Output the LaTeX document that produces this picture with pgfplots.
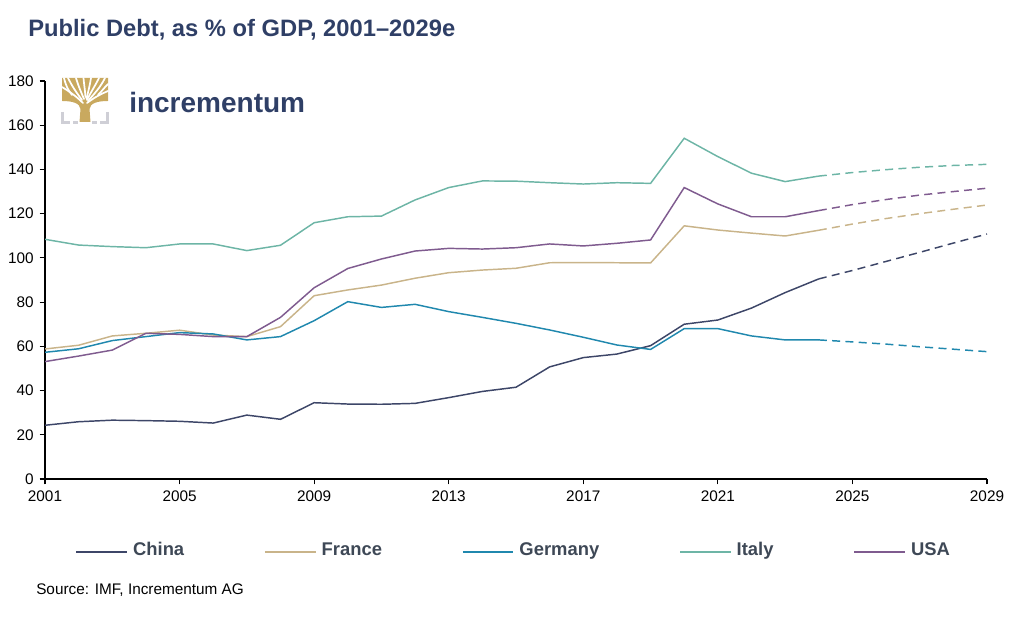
\documentclass[border=0pt]{standalone}
\usepackage{pgfplots}
\pgfplotsset{compat=1.18}
\usepackage{fontspec}
\setmainfont{Liberation Sans}
\definecolor{cChina}{HTML}{3D4668}
\definecolor{cFrance}{HTML}{C9B48A}
\definecolor{cGermany}{HTML}{2088AE}
\definecolor{cItaly}{HTML}{6DB5A6}
\definecolor{cUSA}{HTML}{7F5B8F}
\definecolor{titlec}{HTML}{2F3F66}
\definecolor{legc}{HTML}{3E4856}
\definecolor{treec}{HTML}{C9A95F}
\definecolor{brackc}{HTML}{CFCFD6}

\pgfplotstableread{
year China France Germany Italy USA
2001 24.3 58.8 57.3 108.4 53.1
2002 25.9 60.5 58.9 105.8 55.6
2003 26.6 64.7 62.6 105.1 58.3
2004 26.4 65.9 64.4 104.6 65.9
2005 26.1 67.3 66.2 106.3 65.4
2006 25.3 65.1 65.6 106.3 64.4
2007 28.9 64.4 62.9 103.3 64.4
2008 27.0 68.9 64.4 105.7 73.1
2009 34.5 82.9 71.6 115.9 86.5
2010 33.9 85.5 80.2 118.6 95.2
2011 33.8 87.7 77.6 118.9 99.5
2012 34.2 90.8 79.0 126.2 103.1
2013 36.8 93.3 75.7 131.8 104.3
2014 39.6 94.5 73.1 134.8 104.0
2015 41.5 95.3 70.4 134.7 104.6
2016 50.7 97.8 67.4 134.0 106.3
2017 54.9 97.9 64.1 133.4 105.4
2018 56.5 97.8 60.6 134.0 106.6
2019 60.3 97.7 58.6 133.7 108.1
2020 70.0 114.5 68.0 154.1 131.8
2021 71.9 112.6 68.0 145.8 124.4
2022 77.3 111.2 64.7 138.3 118.6
2023 84.3 109.9 62.9 134.5 118.6
2024 90.5 112.5 62.9 137.0 121.4
}\actual

\pgfplotstableread{
year China France Germany Italy USA
2024 90.5 112.5 62.9 137.0 121.4
2025 94.3 115.3 62.0 138.6 124.1
2026 98.4 117.8 61.0 139.9 126.4
2027 102.5 120.0 59.8 141.0 128.4
2028 106.7 122.0 58.7 141.8 130.0
2029 110.8 123.9 57.6 142.3 131.5
}\forecast

\begin{document}
\begin{tikzpicture}
\path[use as bounding box] (0,0) rectangle (762pt,476.25pt);
\begin{axis}[
  at={(33.75pt,117pt)}, anchor=south west,
  scale only axis, width=706.5pt, height=298.5pt,
  xmin=2001, xmax=2029, ymin=0, ymax=180,
  xtick={2001,2005,...,2029}, ytick={0,20,...,180},
  axis x line*=bottom, axis y line*=left,
  axis line style={black, line width=0.9pt, -},
  tick style={black, line width=0.9pt},
  tick align=outside, major tick length=4pt,
  /pgf/number format/.cd, 1000 sep={}, assume math mode=true,
  /pgfplots/.cd,
  tick label style={font=\fontsize{11.5}{13}\selectfont, black},
  xticklabel style={yshift=-1pt},
  yticklabel style={xshift=-1pt},
  legend columns=5,
  legend style={draw=none, fill=none, at={(0.028,-0.183)}, anchor=west,
    font=\fontsize{13.8}{15}\bfseries\selectfont, text=legc,
    nodes={text height=1.45ex, text depth=0.3ex},
    /tikz/every even column/.append style={column sep=58pt},
    /tikz/every odd column/.append style={column sep=2pt}},
  legend image code/.code={\draw[#1] (0pt,0pt) -- (38pt,0pt);},
  every axis plot/.append style={line width=1.1pt},
]
\addplot[cChina] table[x=year,y=China] {\actual};
\addlegendentry{China}
\addplot[cFrance] table[x=year,y=France] {\actual};
\addlegendentry{France}
\addplot[cGermany] table[x=year,y=Germany] {\actual};
\addlegendentry{Germany}
\addplot[cItaly] table[x=year,y=Italy] {\actual};
\addlegendentry{Italy}
\addplot[cUSA] table[x=year,y=USA] {\actual};
\addlegendentry{USA}
\addplot[cChina, dash pattern=on 6pt off 4pt, forget plot] table[x=year,y=China] {\forecast};
\addplot[cFrance, dash pattern=on 6pt off 4pt, forget plot] table[x=year,y=France] {\forecast};
\addplot[cGermany, dash pattern=on 6pt off 4pt, forget plot] table[x=year,y=Germany] {\forecast};
\addplot[cItaly, dash pattern=on 6pt off 4pt, forget plot] table[x=year,y=Italy] {\forecast};
\addplot[cUSA, dash pattern=on 6pt off 4pt, forget plot] table[x=year,y=USA] {\forecast};
\end{axis}

\begin{scope}[shift={(0pt,476.25pt)}, x=0.75pt, y=-0.75pt]
  % title
  \node[anchor=base west, inner sep=0pt, text=titlec, font=\fontsize{17.8}{20}\bfseries\selectfont] at (28,37) {Public Debt, as \% of GDP, 2001–2029e};
  % source
  \node[anchor=base west, inner sep=0pt, font=\fontsize{11.5}{13}\selectfont] at (36,594) {Source: IMF, Incrementum AG};
  % logo: tree
  \fill[treec] (62,78) -- (108,78) -- (108,101)
     .. controls (98,101) and (90,103) .. (89.5,109) -- (90.5,122) -- (79.5,122) -- (80.5,109)
     .. controls (80,103) and (72,101) .. (62,101) -- cycle;
  \begin{scope}[white, line width=1.3pt, line cap=round]
    \draw (83,103) .. controls (76,96) and (70,92) .. (62,87);
    \draw (82,100) .. controls (76,92) and (72,86) .. (68,78);
    \draw (84,99) .. controls (81,92) and (78,85) .. (76,78);
    \draw (85.5,97) .. controls (85,90) and (84,84) .. (83.5,78);
    \draw (86.5,99) .. controls (88,92) and (90,85) .. (91,78);
    \draw (87,100) .. controls (91,92) and (95,86) .. (99,78);
    \draw (88,101) .. controls (94,94) and (100,88) .. (105,78);
    \draw (87,103) .. controls (95,97) and (101,94) .. (108,91);
    \draw (72,95) .. controls (68,90) and (66,86) .. (64,78);
    \draw (98,95) .. controls (102,91) and (104,88) .. (108,84);
  \end{scope}
  \draw[brackc, line width=1.6pt] (62.5,112) -- (62.5,122.5) -- (70,122.5);
  \draw[brackc, line width=1.6pt] (107.5,112) -- (107.5,122.5) -- (100,122.5);
  \draw[brackc, line width=1.6pt] (73,122.5) -- (78,122.5);
  \draw[brackc, line width=1.6pt] (92,122.5) -- (97,122.5);
  \node[anchor=west, inner sep=0pt, text=titlec, font=\fontsize{21}{24}\bfseries\selectfont] at (129,103) {incrementum};
\end{scope}
\end{tikzpicture}
\end{document}
